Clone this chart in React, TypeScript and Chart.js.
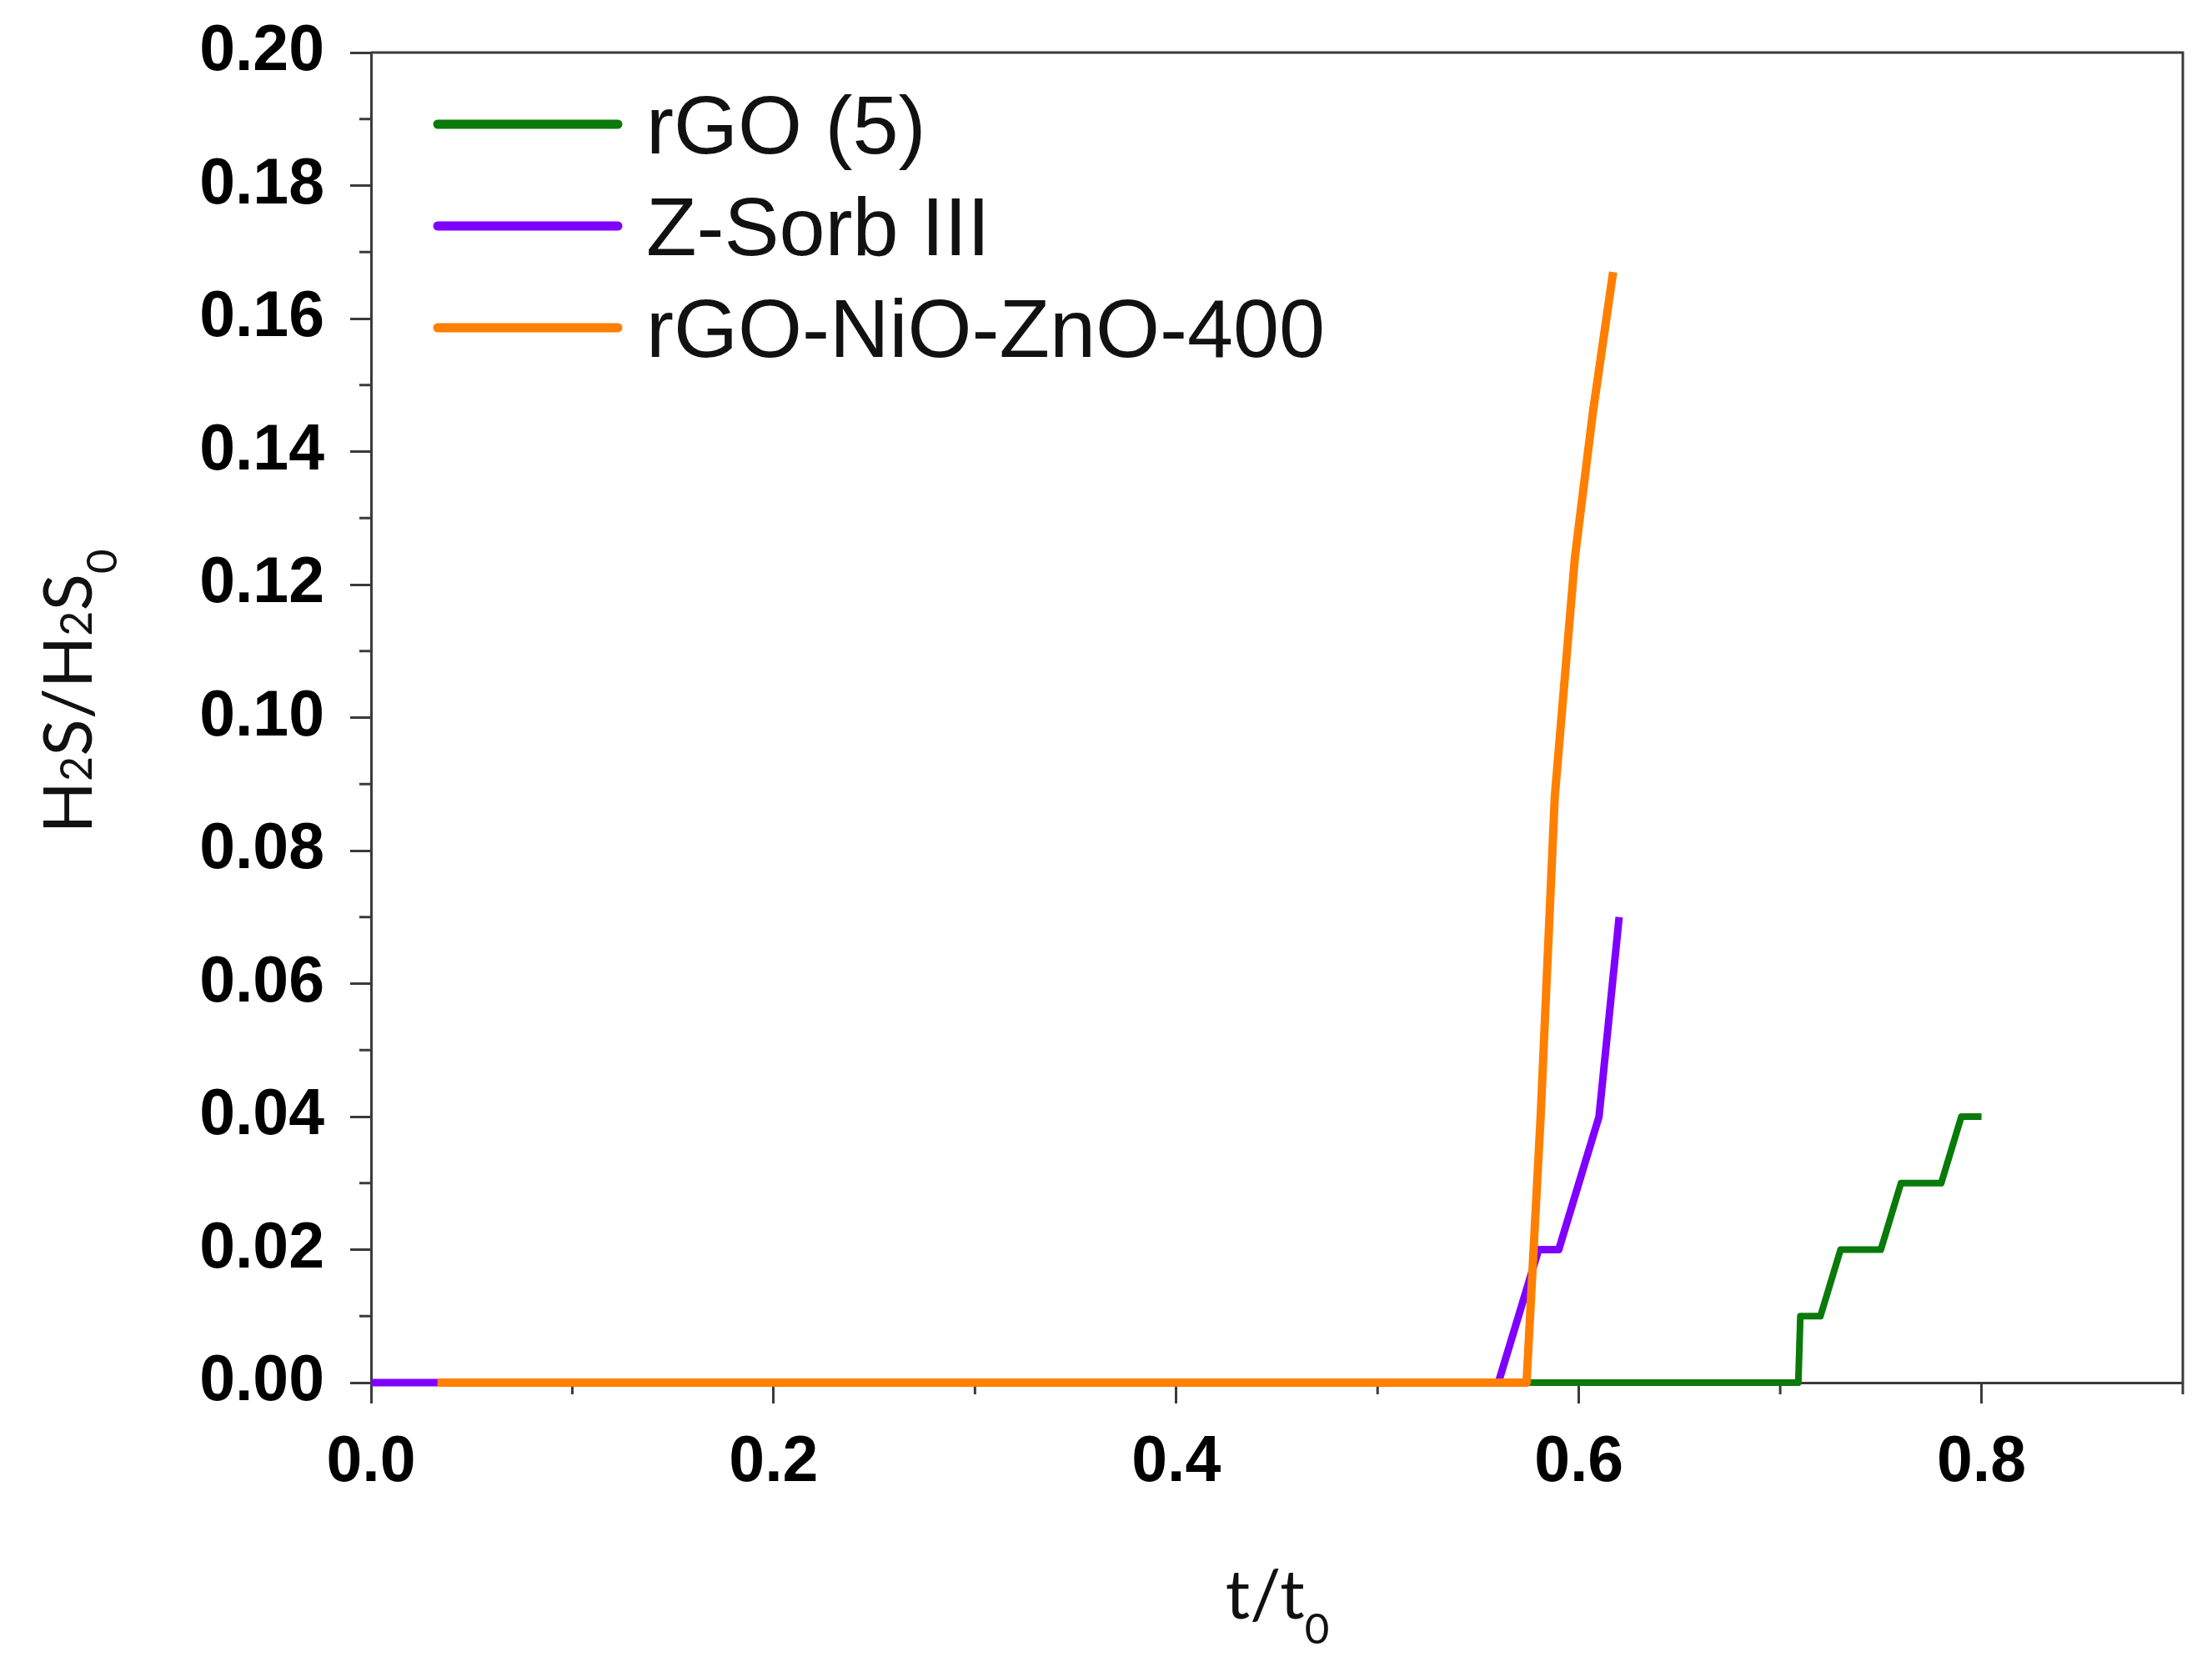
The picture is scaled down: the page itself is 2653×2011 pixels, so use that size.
import React, { useEffect, useRef } from 'react';
import { Chart, registerables } from 'chart.js';

Chart.register(...registerables);

const WIDTH = 2653;
const HEIGHT = 2011;

// Breakthrough curves: relative time t/t0 and outlet ratio H2S/H2S0
const rgoTime = [0, 0.709, 0.71, 0.72, 0.73, 0.75, 0.76, 0.78, 0.79, 0.8];
const rgoRatio = [0, 0, 0.01, 0.01, 0.02, 0.02, 0.03, 0.03, 0.04, 0.04];

const zsorbTime = [0, 0.56, 0.58, 0.59, 0.61, 0.62];
const zsorbRatio = [0, 0, 0.02, 0.02, 0.04, 0.07];

const nioTime = [0.033, 0.574, 0.581, 0.588, 0.598, 0.607, 0.617];
const nioRatio = [0, 0, 0.04, 0.088, 0.124, 0.146, 0.167];

const seriesNames = ['rGO (5)', 'Z-Sorb III', 'rGO-NiO-ZnO-400'];
const seriesColors = ['#0a7a0a', '#7f00ff', '#ff7f00'];

const xTickLabels = ['0.0', '0.2', '0.4', '0.6', '0.8'];
const yTickLabels = ['0.00', '0.02', '0.04', '0.06', '0.08', '0.10', '0.12', '0.14', '0.16', '0.18', '0.20'];

const AXIS_COLOR = '#3a3a3a';
const TICK_FONT = { family: '"Liberation Sans", Arial, sans-serif', size: 77, weight: 'bold' as const };
const LEGEND_FAMILY = '"Liberation Sans", Arial, sans-serif';
const TITLE_FAMILY = 'Lato, "Open Sans", sans-serif';

const toPoints = (xs: number[], ys: number[]) => xs.map((x, i) => ({ x, y: ys[i] }));

type Part = { text: string; scale: number; dy: number };

// Draws a run of text pieces (with small/sub-scripted digits) centred on cx, baseline at by
function drawRich(ctx: CanvasRenderingContext2D, parts: Part[], size: number, cx: number, by: number) {
  const widths = parts.map((p) => {
    ctx.font = `${Math.round(size * p.scale)}px ${TITLE_FAMILY}`;
    return ctx.measureText(p.text).width;
  });
  const total = widths.reduce((a, b) => a + b, 0);
  let x = cx - total / 2;
  parts.forEach((p, i) => {
    ctx.font = `${Math.round(size * p.scale)}px ${TITLE_FAMILY}`;
    ctx.fillText(p.text, x, by + p.dy * size);
    x += widths[i];
  });
}

const decorPlugin = {
  id: 'decor',
  beforeDatasetsDraw(chart: any) {
    const { ctx, chartArea: a, scales } = chart;
    ctx.save();
    ctx.strokeStyle = AXIS_COLOR;
    ctx.lineWidth = 3;
    // top and right frame lines
    ctx.beginPath();
    ctx.moveTo(a.left, a.top);
    ctx.lineTo(a.right, a.top);
    ctx.lineTo(a.right, a.bottom);
    ctx.stroke();
    // minor ticks
    const minorLen = 14;
    scales.x.ticks.forEach((t: any) => {
      if (Math.round(t.value * 10) % 2 !== 0) {
        const px = scales.x.getPixelForValue(t.value);
        ctx.beginPath();
        ctx.moveTo(px, a.bottom);
        ctx.lineTo(px, a.bottom + minorLen);
        ctx.stroke();
      }
    });
    scales.y.ticks.forEach((t: any) => {
      if (Math.round(t.value * 100) % 2 !== 0) {
        const py = scales.y.getPixelForValue(t.value);
        ctx.beginPath();
        ctx.moveTo(a.left, py);
        ctx.lineTo(a.left - minorLen, py);
        ctx.stroke();
      }
    });
    ctx.restore();
  },
  afterDraw(chart: any) {
    const { ctx, chartArea: a } = chart;
    ctx.save();
    // legend inside the plot area
    const legendSize = 99;
    chart.data.datasets.forEach((ds: any, i: number) => {
      const y = a.top + 86 + i * 122;
      ctx.strokeStyle = ds.borderColor;
      ctx.lineWidth = 11;
      ctx.lineCap = 'round';
      ctx.beginPath();
      ctx.moveTo(a.left + 80, y);
      ctx.lineTo(a.left + 296, y);
      ctx.stroke();
      ctx.fillStyle = '#111';
      ctx.font = `${legendSize}px ${LEGEND_FAMILY}`;
      ctx.textAlign = 'left';
      ctx.textBaseline = 'alphabetic';
      ctx.fillText(ds.label, a.left + 330, y + 35);
    });

    // axis titles
    ctx.fillStyle = '#111';
    ctx.textAlign = 'left';
    ctx.textBaseline = 'alphabetic';
    const titleSize = 82;
    drawRich(
      ctx,
      [
        { text: 't/t', scale: 1, dy: 0 },
        { text: '0', scale: 0.62, dy: 0.36 },
      ],
      titleSize,
      1532,
      1941
    );
    ctx.save();
    ctx.translate(110, 829);
    ctx.rotate(-Math.PI / 2);
    drawRich(
      ctx,
      [
        { text: 'H', scale: 1, dy: 0 },
        { text: '2', scale: 0.64, dy: 0 },
        { text: 'S/H', scale: 1, dy: 0 },
        { text: '2', scale: 0.64, dy: 0 },
        { text: 'S', scale: 1, dy: 0 },
        { text: '0', scale: 0.62, dy: 0.36 },
      ],
      titleSize,
      0,
      0
    );
    ctx.restore();
    ctx.restore();
  },
};

export default function App() {
  const canvasRef = useRef<HTMLCanvasElement | null>(null);

  useEffect(() => {
    if (!canvasRef.current) return;
    const lineDs = (i: number, data: { x: number; y: number }[], order: number, width: number) => ({
      label: seriesNames[i],
      data,
      borderColor: seriesColors[i],
      backgroundColor: seriesColors[i],
      borderWidth: width,
      pointRadius: 0,
      tension: 0,
      fill: false,
      clip: false as const,
      order,
      borderJoinStyle: 'round' as const,
      borderCapStyle: 'butt' as const,
    });

    const chart = new Chart(canvasRef.current, {
      type: 'line',
      data: {
        datasets: [
          lineDs(0, toPoints(rgoTime, rgoRatio), 2, 8),
          lineDs(1, toPoints(zsorbTime, zsorbRatio), 1, 9),
          lineDs(2, toPoints(nioTime, nioRatio), 0, 10),
        ],
      },
      options: {
        responsive: false,
        animation: false,
        parsing: false,
        normalized: true,
        layout: { padding: { left: 0, top: 63, right: 35, bottom: 0 } },
        plugins: { legend: { display: false }, tooltip: { enabled: false } },
        scales: {
          x: {
            type: 'linear',
            min: 0,
            max: 0.9,
            afterFit: (s: any) => {
              s.height = HEIGHT - 1658;
              s.paddingLeft = 0;
              s.paddingRight = 0;
            },
            ticks: {
              stepSize: 0.1,
              autoSkip: false,
              maxRotation: 0,
              color: '#000',
              font: TICK_FONT,
              padding: 26,
              callback: (v: any) => {
                const s = (Math.round(Number(v) * 10) / 10).toFixed(1);
                return xTickLabels.includes(s) ? s : '';
              },
            },
            grid: {
              drawOnChartArea: false,
              drawTicks: true,
              tickLength: 25,
              tickWidth: 3,
              tickColor: (c: any) =>
                c.tick && Math.round(c.tick.value * 10) % 2 === 0 ? AXIS_COLOR : 'rgba(0,0,0,0)',
            },
            border: { display: true, color: AXIS_COLOR, width: 3 },
          },
          y: {
            type: 'linear',
            min: 0,
            max: 0.2,
            afterFit: (s: any) => {
              s.width = 445;
              s.paddingTop = 0;
              s.paddingBottom = 0;
            },
            ticks: {
              stepSize: 0.01,
              autoSkip: false,
              color: '#000',
              font: TICK_FONT,
              padding: 31,
              callback: (v: any) => {
                const s = (Math.round(Number(v) * 100) / 100).toFixed(2);
                return yTickLabels.includes(s) && Math.round(Number(v) * 100) % 2 === 0 ? s : '';
              },
            },
            grid: {
              drawOnChartArea: false,
              drawTicks: true,
              tickLength: 25,
              tickWidth: 3,
              tickColor: (c: any) =>
                c.tick && Math.round(c.tick.value * 100) % 2 === 0 ? AXIS_COLOR : 'rgba(0,0,0,0)',
            },
            border: { display: true, color: AXIS_COLOR, width: 3 },
          },
        },
      },
      plugins: [decorPlugin],
    });
    return () => chart.destroy();
  }, []);

  return (
    <div style={{ position: 'fixed', left: 0, top: 0, width: WIDTH, height: HEIGHT, background: '#fff' }}>
      <canvas ref={canvasRef} width={WIDTH} height={HEIGHT} style={{ width: WIDTH, height: HEIGHT, display: 'block' }} />
    </div>
  );
}
